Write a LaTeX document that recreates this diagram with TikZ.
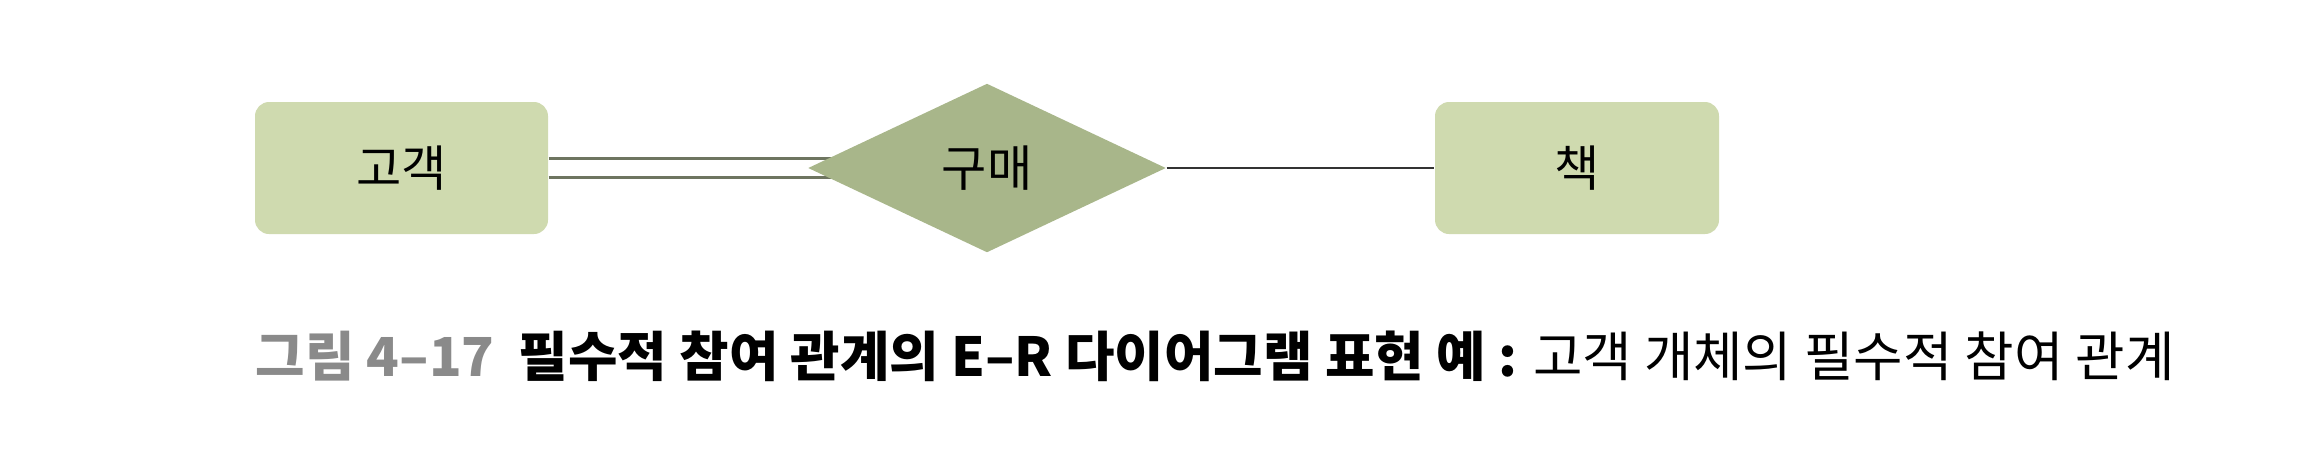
\documentclass[tikz,border=0pt]{standalone}
\usepackage{fontspec}
\usepackage{tikz}
\usetikzlibrary{positioning,shapes.geometric,backgrounds}
\newfontfamily\krfont{Noto Sans CJK KR}
\definecolor{EntityGreen}{HTML}{CFDAAF}
\definecolor{RelGreen}{HTML}{A8B68A}
\definecolor{LinkGray}{HTML}{6E7560}
\definecolor{CapGray}{HTML}{8A8A8A}

\begin{document}
\begin{tikzpicture}[
  entity/.style={fill=EntityGreen,rounded corners=4pt,minimum width=29.3mm,minimum height=13.2mm,font=\krfont\fontsize{14}{16}\selectfont},
  relation/.style={diamond,fill=RelGreen,aspect=2.12,minimum width=35.8mm,minimum height=16.9mm,inner sep=0pt,font=\krfont\fontsize{14}{16}\selectfont},
  link/.style={line width=0.6pt}
]
\useasboundingbox (0,0) rectangle (23.24,4.52);
\node[entity] (cust) at (4.015,2.84) {고객};
\node[relation] (buy) at (9.87,2.84) {구매};
\node[entity,minimum width=28.4mm] (book) at (15.77,2.84) {책};
\begin{scope}[on background layer]
\draw[link,LinkGray] ([yshift=0.95mm]cust.east) -- ([yshift=0.95mm]buy.center);
\draw[link,LinkGray] ([yshift=-0.95mm]cust.east) -- ([yshift=-0.95mm]buy.center);
\end{scope}
\draw[link,black!80] (buy.east) -- (book.west);
\node[anchor=west,font=\krfont\fontsize{15.3}{18}\selectfont,inner sep=0pt] (cap) at (2.55,0.96)
  {\textbf{\color{CapGray}그림 4–17}\hspace{0.45em}\textbf{필수적 참여 관계의 E–R 다이어그램 표현 예 :} 고객 개체의 필수적 참여 관계};
\end{tikzpicture}
\end{document}
